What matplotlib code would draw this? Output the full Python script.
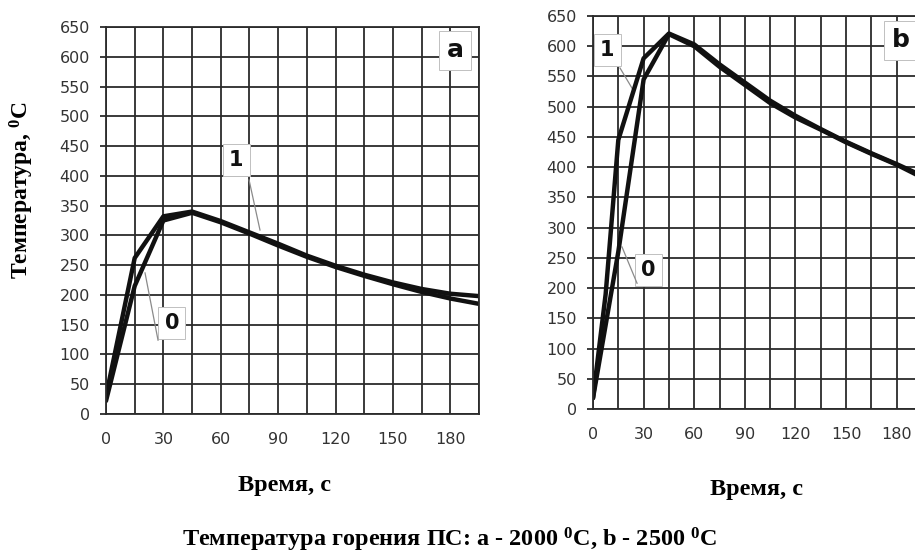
import numpy as np
import matplotlib
matplotlib.use('Agg')
import matplotlib.pyplot as plt

plt.rcParams['font.family'] = ['DejaVu Sans']
plt.rcParams['mathtext.fontset'] = 'custom'
plt.rcParams['mathtext.rm'] = 'Liberation Serif:bold'
plt.rcParams['mathtext.it'] = 'Liberation Serif:bold'
plt.rcParams['mathtext.bf'] = 'Liberation Serif:bold'

# panel a (2000 C)
time_a = [0, 15, 30, 45, 60, 75, 90, 105, 120, 135, 150, 165, 180, 195]
temp_a0 = [22, 215, 325, 338, 322, 303, 283, 264, 247, 232, 218, 205, 194, 185]
temp_a1 = [30, 262, 332, 340, 324, 305, 286, 266, 249, 234, 221, 210, 202, 198]

# panel b (2500 C)
time_b0 = [0, 15, 30, 45, 60, 75, 90, 105, 120, 135, 150, 165, 180, 195]
temp_b0 = [18, 260, 545, 620, 600, 566, 536, 506, 482, 462, 441, 422, 404, 383]
time_b1 = [0, 7.5, 15, 30, 45, 60, 75, 90, 105, 120, 135, 150, 165, 180, 195]
temp_b1 = [18, 190, 445, 580, 621, 603, 570, 540, 510, 485, 463, 442, 423, 405, 386]

x_ticks = np.arange(0, 196, 15)
x_labels = [str(t) if t % 30 == 0 and t <= 180 else '' for t in x_ticks]
y_ticks = np.arange(0, 651, 50)

grid_c = '#2b2b2b'
serif = 'Liberation Serif'

fig = plt.figure(figsize=(9.15, 5.56), dpi=100)
ax_a = fig.add_axes([106 / 915, 1 - 414 / 556, 373 / 915, 387 / 556])
ax_b = fig.add_axes([593 / 915, 1 - 409 / 556, 329 / 915, 393 / 556])


def style(ax):
    ax.set_xlim(0, 195)
    ax.set_ylim(0, 650)
    ax.set_xticks(x_ticks)
    ax.set_xticklabels(x_labels)
    ax.set_yticks(y_ticks)
    ax.set_axisbelow(True)
    ax.grid(True, color=grid_c, lw=1.3)
    for s in ax.spines.values():
        s.set_color(grid_c)
        s.set_linewidth(1.3)
    ax.tick_params(axis='x', length=0, pad=13, labelsize=11.5, labelcolor='#333333')
    ax.tick_params(axis='y', length=4.5, width=1.3, color=grid_c, pad=7,
                   labelsize=11.5, labelcolor='#333333')


def tag(ax, x, y, s, size=14):
    ax.text(x, y, s, fontsize=size, fontweight='bold', ha='center', va='center',
            zorder=2.2, color='#111111',
            bbox=dict(boxstyle='square,pad=0.3', fc='white', ec='#c0c0c0', lw=0.7))


def leader(ax, x0, y0, x1, y1):
    ax.plot([x0, x1], [y0, y1], color='#8a8a8a', lw=0.9, zorder=2.3)


style(ax_a)
style(ax_b)

ax_a.plot(time_a, temp_a0, color='#111111', lw=3.2, zorder=2.4, solid_capstyle='round')
ax_a.plot(time_a, temp_a1, color='#111111', lw=3.2, zorder=2.4, solid_capstyle='round')
ax_b.plot(time_b0, temp_b0, color='#111111', lw=3.2, zorder=2.4, solid_capstyle='round')
ax_b.plot(time_b1, temp_b1, color='#111111', lw=3.2, zorder=2.4, solid_capstyle='round')

tag(ax_a, 182.5, 611, 'a', 18)
tag(ax_a, 68, 427, '1', 15)
leader(ax_a, 74.8, 393, 80.5, 309)
tag(ax_a, 34.5, 153, '0', 15)
leader(ax_a, 27.2, 124, 20.4, 237)

tag(ax_b, 182.5, 610, 'b', 18)
tag(ax_b, 8.3, 594, '1', 15)
leader(ax_b, 16, 564, 23.7, 528)
tag(ax_b, 32.6, 230, '0', 15)
leader(ax_b, 26.1, 208, 17.2, 268)

fig.text(22 / 915, 1 - 190 / 556, 'Температура, $^{0}$C', rotation=90,
         family=serif, fontweight='bold', fontsize=17, ha='center', va='center')
fig.text(285 / 915, 1 - 486 / 556, 'Время, с', family=serif, fontweight='bold',
         fontsize=17.5, ha='center', va='center')
fig.text(757 / 915, 1 - 489 / 556, 'Время, с', family=serif, fontweight='bold',
         fontsize=17.5, ha='center', va='center')
fig.text(450 / 915, 1 - 540 / 556,
         'Температура горения ПС: a - 2000 $^{0}$C, b - 2500 $^{0}$C',
         family=serif, fontweight='bold', fontsize=17.5, ha='center', va='center')

fig.savefig('out.png', dpi=100)
